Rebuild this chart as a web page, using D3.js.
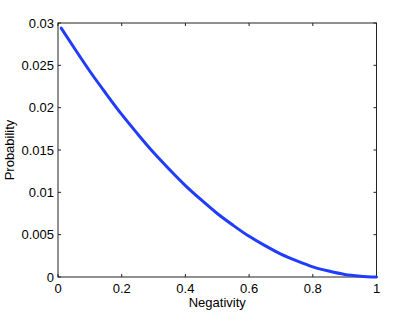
<!DOCTYPE html>
<html><head><meta charset="utf-8">
<script src="https://cdn.jsdelivr.net/npm/d3@7"></script>
<style>
html,body{margin:0;padding:0;background:#fff;}
svg{display:block;font-family:"Liberation Sans",Arial,sans-serif;}
</style></head>
<body>
<svg id="chart" width="415" height="312"></svg>
<script>
const negativity = [0.01,0.05,0.10,0.15,0.20,0.25,0.30,0.35,0.40,0.45,0.50,0.55,0.60,0.65,0.70,0.75,0.80,0.85,0.90,0.95,1.00];
const probability = [0.0294,0.0271,0.0243,0.0217,0.0192,0.0169,0.0147,0.0127,0.0108,0.0091,0.0075,0.0061,0.0048,0.0037,0.0027,0.0019,0.0012,0.0007,0.0003,0.0001,0.0];
const xTicks = [0,0.2,0.4,0.6,0.8,1];
const yTicks = [0,0.005,0.01,0.015,0.02,0.025,0.03];
const xTickLabels = ["0","0.2","0.4","0.6","0.8","1"];
const yTickLabels = ["0","0.005","0.01","0.015","0.02","0.025","0.03"];

const svg = d3.select("#chart");
const L=58, R=376.5, T=23, B=277;
const x = d3.scaleLinear().domain([0,1]).range([L,R]);
const y = d3.scaleLinear().domain([0,0.03]).range([B,T]);
const fs = 13;

svg.append("rect").attr("x",L).attr("y",T).attr("width",R-L).attr("height",B-T)
  .attr("fill","none").attr("stroke","#222").attr("stroke-width",1);

const tl = 3;
const g = svg.append("g").attr("stroke","#222").attr("stroke-width",1);
xTicks.forEach(v=>{
  g.append("line").attr("x1",x(v)).attr("x2",x(v)).attr("y1",B).attr("y2",B-tl);
  g.append("line").attr("x1",x(v)).attr("x2",x(v)).attr("y1",T).attr("y2",T+tl);
});
yTicks.forEach(v=>{
  g.append("line").attr("x1",L).attr("x2",L+tl).attr("y1",y(v)).attr("y2",y(v));
  g.append("line").attr("x1",R).attr("x2",R-tl).attr("y1",y(v)).attr("y2",y(v));
});

xTicks.forEach((v,i)=>{
  svg.append("text").attr("x",x(v)).attr("y",B+16).attr("text-anchor","middle")
    .attr("font-size",fs).attr("fill","#000").text(xTickLabels[i]);
});
yTicks.forEach((v,i)=>{
  svg.append("text").attr("x",L-4).attr("y",y(v)+4.5).attr("text-anchor","end")
    .attr("font-size",fs).attr("fill","#000").text(yTickLabels[i]);
});

svg.append("text").attr("x",(L+R)/2).attr("y",B+30).attr("text-anchor","middle")
  .attr("font-size",fs).text("Negativity");
svg.append("text").attr("transform",`translate(14,${(T+B)/2}) rotate(-90)`).attr("text-anchor","middle")
  .attr("font-size",fs).text("Probability");

const line = d3.line().x((d,i)=>x(negativity[i])).y(d=>y(d)).curve(d3.curveMonotoneX);
svg.append("path").datum(probability).attr("d",line).attr("fill","none")
  .attr("stroke","#1f3cff").attr("stroke-width",3).attr("stroke-linecap","round");
</script>
</body></html>
